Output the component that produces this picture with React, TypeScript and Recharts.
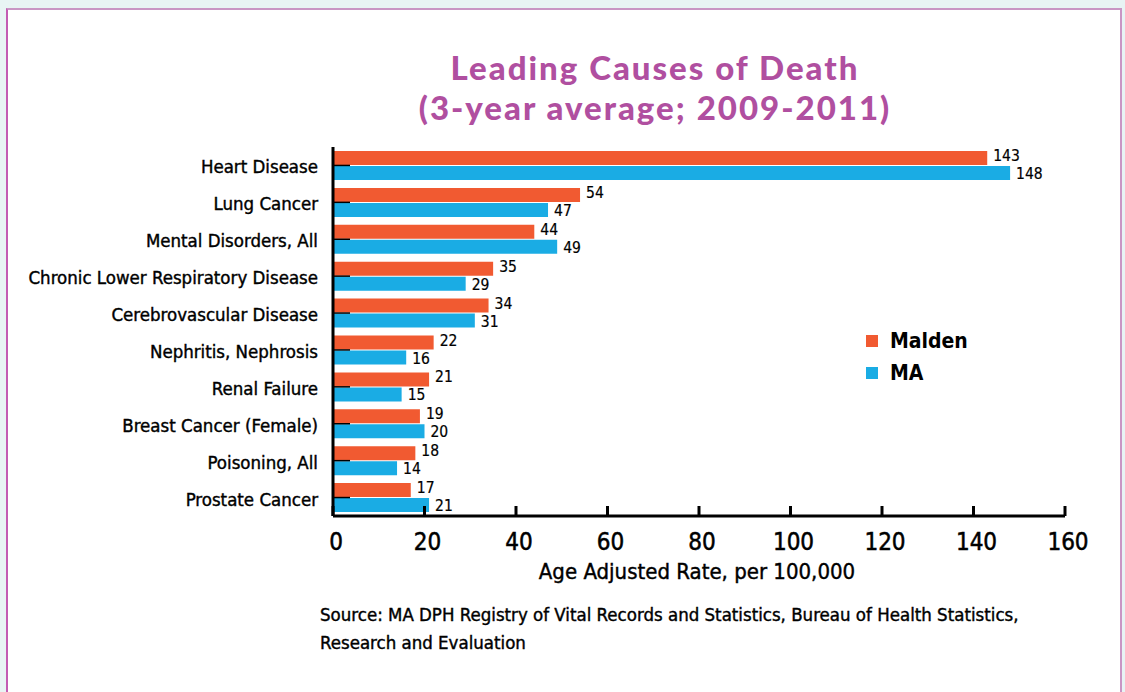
import React from "react"
import { BarChart, Bar, XAxis, YAxis, LabelList } from "recharts"

const causes = [
  "Heart Disease",
  "Lung Cancer",
  "Mental Disorders, All",
  "Chronic Lower Respiratory Disease",
  "Cerebrovascular Disease",
  "Nephritis, Nephrosis",
  "Renal Failure",
  "Breast Cancer (Female)",
  "Poisoning, All",
  "Prostate Cancer",
]
const malden = [143, 54, 44, 35, 34, 22, 21, 19, 18, 17]
const ma = [148, 47, 49, 29, 31, 16, 15, 20, 14, 21]
const xTicks = [0, 20, 40, 60, 80, 100, 120, 140, 160]

const ORANGE = "#f15a31"
const BLUE = "#1aace4"
const PURPLE = "#b04fa0"
const FONT = "'DejaVu Sans Condensed', 'Liberation Sans Narrow', sans-serif"

const chartData = causes.map((c, i) => ({ cause: c, malden: malden[i], ma: ma[i] }))

function XTick(props: any) {
  const { x, y, payload } = props
  return (
    <g>
      <line x1={x} x2={x} y1={y} y2={y - 10} stroke="#000" strokeWidth={3} />
      <text x={x + 3} y={y + 34} textAnchor="middle" fontFamily={FONT} fontSize={24} fill="#000" stroke="#000" strokeWidth={0.5}>
        {payload.value}
      </text>
    </g>
  )
}

function YTick(props: any) {
  const { x, y, payload } = props
  return (
    <g>
      <line x1={x} x2={x + 17} y1={y} y2={y} stroke="#000" strokeWidth={1.5} />
      <text x={x - 15} y={y + 8} textAnchor="end" fontFamily={FONT} fontSize={18.5} fill="#000" stroke="#000" strokeWidth={0.4}>
        {payload.value}
      </text>
    </g>
  )
}

// value label next to bar end, nudged up or down a little like the original
function ValueLabel(props: any) {
  const { x, y, width, height, value, shift } = props
  return (
    <text
      x={x + width + 6}
      y={y + height / 2 + 5 + shift}
      fontFamily={FONT}
      fontSize={15.5}
      fill="#000"
      stroke="#000"
      strokeWidth={0.2}
    >
      {value}
    </text>
  )
}

function LegendBox() {
  const items = [
    { name: "Malden", color: ORANGE },
    { name: "MA", color: BLUE },
  ]
  return (
    <div style={{ position: "absolute", left: 866, top: 325 }}>
      {items.map((it) => (
        <div key={it.name} style={{ display: "flex", alignItems: "center", height: 32 }}>
          <span style={{ width: 12, height: 12, background: it.color, marginRight: 12 }} />
          <span style={{ fontFamily: FONT, fontWeight: "bold", fontSize: 21, color: "#000" }}>{it.name}</span>
        </div>
      ))}
    </div>
  )
}

const medium = { WebkitTextStroke: "0.4px #000" } as React.CSSProperties

export default function App() {
  return (
    <div style={{ position: "absolute", left: 0, top: 0, width: 1125, height: 692, background: "#e8f4f4", overflow: "hidden" }}>
      <div
        style={{
          position: "absolute",
          left: 6,
          top: 8,
          width: 1112,
          height: 700,
          background: "#fff",
          borderLeft: "2px solid #c35cb3",
          borderTop: "2px solid #c996c4",
          borderRight: "2px solid #c996c4",
        }}
      />
      <div
        style={{
          position: "absolute",
          left: 305,
          top: 47,
          width: 700,
          textAlign: "center",
          fontFamily: "Lato, sans-serif",
          fontWeight: 900,
          fontSize: 33,
          lineHeight: "40px",
          letterSpacing: 2,
          color: PURPLE,
        }}
      >
        Leading Causes of Death
        <br />
        (3-year average; 2009-2011)
      </div>
      <div style={{ position: "absolute", left: 0, top: 0 }}>
        <BarChart
          width={1125}
          height={692}
          data={chartData}
          layout="vertical"
          margin={{ top: 147, right: 60, bottom: 146, left: 0 }}
          barSize={14}
          barGap={1}
        >
          <XAxis
            type="number"
            domain={[0, 160]}
            ticks={xTicks}
            tickSize={0}
            tickMargin={0}
            height={30}
            tick={<XTick />}
            axisLine={{ stroke: "#000", strokeWidth: 3 }}
            tickLine={false}
            interval={0}
          />
          <YAxis
            type="category"
            dataKey="cause"
            width={333}
            tickSize={0}
            tickMargin={0}
            tick={<YTick />}
            axisLine={{ stroke: "#000", strokeWidth: 3 }}
            tickLine={false}
            interval={0}
          />
          <Bar dataKey="malden" name="Malden" fill={ORANGE} isAnimationActive={false}>
            <LabelList dataKey="malden" content={(p: any) => <ValueLabel {...p} shift={-2} />} />
          </Bar>
          <Bar dataKey="ma" name="MA" fill={BLUE} isAnimationActive={false}>
            <LabelList dataKey="ma" content={(p: any) => <ValueLabel {...p} shift={1} />} />
          </Bar>
        </BarChart>
      </div>
      <LegendBox />
      <div
        style={{
          position: "absolute",
          left: 497,
          top: 559,
          width: 400,
          textAlign: "center",
          fontFamily: FONT,
          fontSize: 22,
          whiteSpace: "nowrap",
          ...medium,
        }}
      >
        Age Adjusted Rate, per 100,000
      </div>
      <div
        style={{
          position: "absolute",
          left: 320,
          top: 601,
          fontFamily: FONT,
          fontSize: 18.5,
          lineHeight: "28px",
          whiteSpace: "nowrap",
          ...medium,
        }}
      >
        Source: MA DPH Registry of Vital Records and Statistics, Bureau of Health Statistics,
        <br />
        Research and Evaluation
      </div>
    </div>
  )
}
